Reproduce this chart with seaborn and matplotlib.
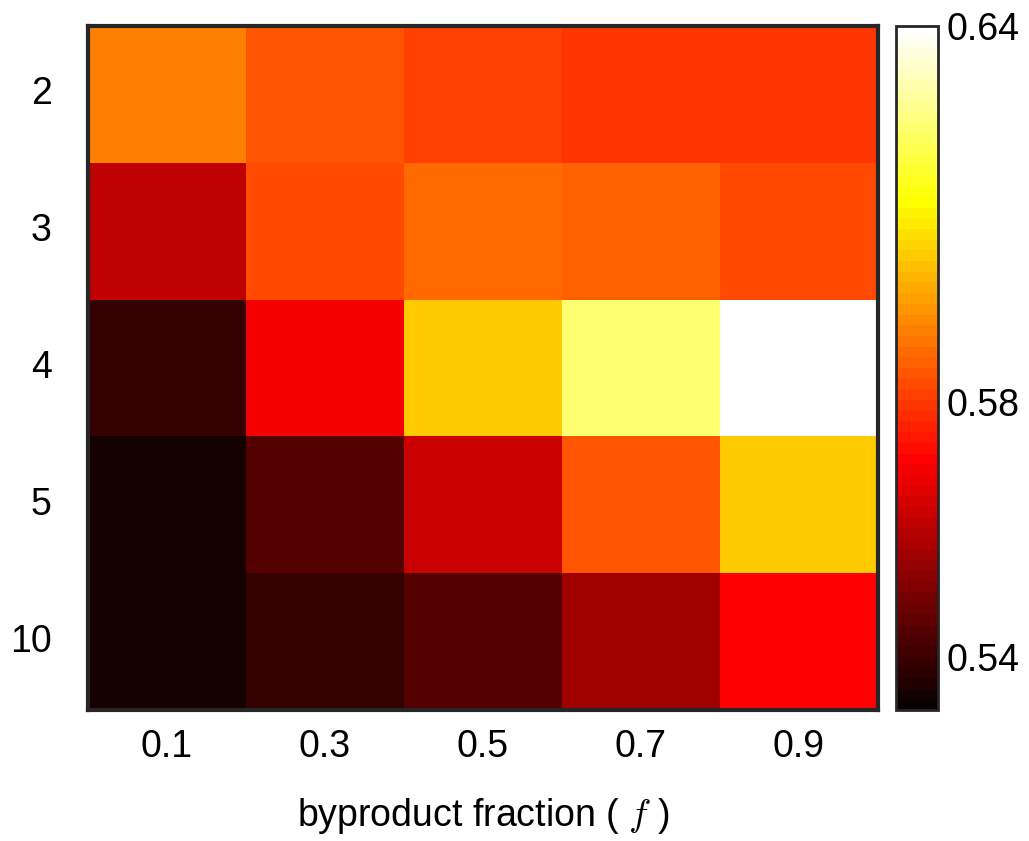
import numpy as np
import pandas as pd
import matplotlib
matplotlib.use("Agg")
import matplotlib.pyplot as plt
from matplotlib.colors import ListedColormap
import seaborn as sns

# Grid labels
fractions = ["0.1", "0.3", "0.5", "0.7", "0.9"]
sizes = ["2", "3", "4", "5", "10"]

# Cell values, one list per row (top to bottom)
row_2 = [0.5912, 0.5845, 0.5811, 0.5794, 0.5794]
row_3 = [0.5610, 0.5828, 0.5878, 0.5861, 0.5828]
row_4 = [0.5392, 0.5694, 0.6029, 0.6230, 0.6388]
row_5 = [0.5342, 0.5443, 0.5627, 0.5845, 0.6029]
row_10 = [0.5342, 0.5392, 0.5443, 0.5560, 0.5711]

color_min = 0.5317
color_max = 0.6388
cbar_labeled = [0.54, 0.58, color_max]
cbar_minor = [0.55, 0.56, 0.57, 0.59, 0.60, 0.61, 0.62, 0.63]

df = pd.DataFrame([row_2, row_3, row_4, row_5, row_10], index=sizes, columns=fractions)


def hot_table(m=64):
    """Classic 'hot' lookup table: black -> red -> yellow -> white."""
    n = int(np.fix(3 / 8 * m))
    r = np.concatenate([np.arange(1, n + 1) / n, np.ones(m - n)])
    g = np.concatenate([np.zeros(n), np.arange(1, n + 1) / n, np.ones(m - 2 * n)])
    b = np.concatenate([np.zeros(2 * n), np.arange(1, m - 2 * n + 1) / (m - 2 * n)])
    return ListedColormap(np.column_stack([r, g, b]), name="hot64")


sns.set_theme(style="white")
plt.rcParams["font.family"] = ["Liberation Sans", "DejaVu Sans"]
plt.rcParams["mathtext.fontset"] = "cm"

W, H = 1029, 841
fig = plt.figure(figsize=(W / 100, H / 100), dpi=100)
ax = fig.add_axes([88 / W, 1 - 710 / H, 790 / W, 684 / H])
cax = fig.add_axes([896 / W, 1 - 710 / H, 42 / W, 684 / H])

sns.heatmap(df, ax=ax, cbar_ax=cax, cmap=hot_table(64),
            vmin=color_min, vmax=color_max, linewidths=0)

edge = "#262626"
for side, sp in ax.spines.items():
    sp.set_visible(True)
    sp.set_color(edge)
    sp.set_linewidth(3)

ax.tick_params(axis="both", which="major", direction="in", length=5, width=1,
               color=edge, labelsize=27, labelcolor="black",
               top=True, right=True, bottom=True, left=True)
ax.tick_params(axis="x", pad=14)
ax.tick_params(axis="y", pad=26)
ax.set_yticklabels(sizes, rotation=0)
ax.set_xticklabels(fractions, rotation=0)
ax.set_ylabel("")
ax.set_xlabel("byproduct fraction ( $f$ )", fontsize=27, labelpad=22, color="black")

cb = ax.collections[0].colorbar
cb.outline.set_edgecolor(edge)
cb.outline.set_linewidth(2)
cb.set_ticks(cbar_labeled)
cb.set_ticklabels([f"{v:.2f}" for v in cbar_labeled])
cb.ax.yaxis.set_ticks(cbar_minor, minor=True)
cb.ax.tick_params(which="both", direction="in", length=5, width=1, color=edge,
                  right=True, left=False, labelsize=27, labelcolor="black", pad=6)

fig.savefig("out.png", dpi=100)
